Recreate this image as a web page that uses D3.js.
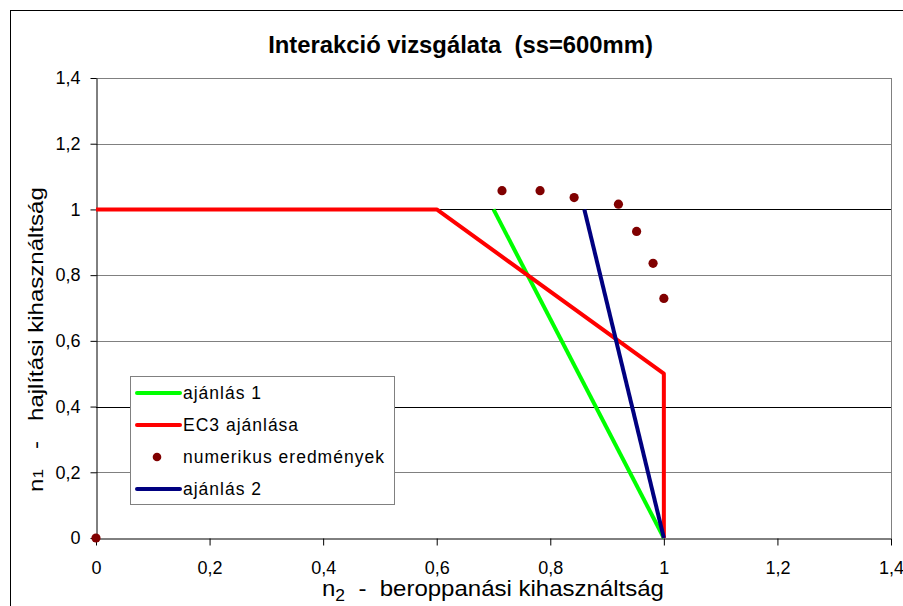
<!DOCTYPE html>
<html>
<head>
<meta charset="utf-8">
<script src="https://cdn.jsdelivr.net/npm/d3@7"></script>
<style>
  html, body { margin: 0; padding: 0; background: #fff; }
  svg { display: block; }
  text { font-family: "Liberation Sans", Arial, sans-serif; fill: #000; white-space: pre; }
</style>
</head>
<body>
<svg id="chart" width="903" height="606"></svg>
<script>
// ---- data ----
const chartTitle = "Interakció vizsgálata  (ss=600mm)";
const seriesNames = ["ajánlás 1", "EC3 ajánlása", "numerikus eredmények", "ajánlás 2"];

// n2 (x) / n1 (y) pairs of the three interaction lines
const ajanlas1N2 = [0.7, 1.0];
const ajanlas1N1 = [1.0, 0.0];
const ec3N2 = [0.0, 0.6, 1.0, 1.0];
const ec3N1 = [1.0, 1.0, 0.5, 0.0];
const ajanlas2N2 = [0.86, 1.0];
const ajanlas2N1 = [1.0, 0.0];

// numerical results
const numerikusN2 = [0.0, 0.715, 0.782, 0.842, 0.920, 0.952, 0.981, 1.0];
const numerikusN1 = [0.0, 1.057, 1.057, 1.036, 1.016, 0.933, 0.836, 0.729];

const tickValues = [0, 0.2, 0.4, 0.6, 0.8, 1.0, 1.2, 1.4];
const tickLabels = ["0", "0,2", "0,4", "0,6", "0,8", "1", "1,2", "1,4"];

// ---- layout ----
const svg = d3.select("#chart");
const x = d3.scaleLinear().domain([0, 1.4]).range([96, 891]);
const y = d3.scaleLinear().domain([0, 1.4]).range([538, 78]);
const labelOf = v => tickLabels[tickValues.findIndex(t => Math.abs(t - v) < 1e-9)];

// outer chart frame
svg.append("rect")
  .attr("x", 10.5).attr("y", 10.5).attr("width", 1000).attr("height", 1000)
  .attr("fill", "#fff").attr("stroke", "#000").attr("stroke-width", 1);

// horizontal gridlines
svg.append("g").selectAll("line")
  .data(tickValues.slice(1))
  .join("line")
  .attr("x1", x(0)).attr("x2", x(1.4))
  .attr("y1", d => Math.round(y(d)) + 0.5).attr("y2", d => Math.round(y(d)) + 0.5)
  .attr("stroke", d => (Math.abs(d - 1.0) < 1e-9 || Math.abs(d - 0.4) < 1e-9) ? "#000" : "#808080")
  .attr("stroke-width", 1);

// right edge of the plot area
svg.append("line")
  .attr("x1", Math.round(x(1.4)) + 0.5).attr("x2", Math.round(x(1.4)) + 0.5)
  .attr("y1", y(1.4)).attr("y2", y(0))
  .attr("stroke", "#808080");

// axes
const xAxis = svg.append("g")
  .attr("transform", `translate(0,${Math.round(y(0)) + 0.5})`)
  .call(d3.axisBottom(x).tickValues(tickValues).tickFormat(labelOf).tickSize(7).tickSizeOuter(0));
xAxis.selectAll("text")
  .attr("y", 35).attr("dy", null)
  .style("font-size", "18px").style("font-family", "Liberation Sans, Arial, sans-serif");

const yAxis = svg.append("g")
  .attr("transform", `translate(${Math.round(x(0)) + 0.5},0)`)
  .call(d3.axisLeft(y).tickValues(tickValues).tickFormat(labelOf).tickSize(6).tickSizeOuter(0));
yAxis.selectAll("text")
  .attr("x", -16)
  .style("font-size", "18px").style("font-family", "Liberation Sans, Arial, sans-serif");
svg.selectAll(".domain, .tick line").attr("stroke", "#000");

// series lines
const line = d3.line().x(d => x(d[0])).y(d => y(d[1]));
const zip = (a, b) => a.map((v, i) => [v, b[i]]);
const lineSeries = [
  { pts: zip(ajanlas1N2, ajanlas1N1), color: "#00ff00" },
  { pts: zip(ec3N2, ec3N1), color: "#ff0000" },
  { pts: zip(ajanlas2N2, ajanlas2N1), color: "#000080" }
];
svg.append("g").selectAll("path")
  .data(lineSeries)
  .join("path")
  .attr("d", d => line(d.pts))
  .attr("fill", "none")
  .attr("stroke", d => d.color)
  .attr("stroke-width", 4)
  .attr("stroke-linejoin", "round");

// numerical result markers
svg.append("g").selectAll("circle")
  .data(zip(numerikusN2, numerikusN1))
  .join("circle")
  .attr("cx", d => x(d[0])).attr("cy", d => y(d[1]))
  .attr("r", 4.6)
  .attr("fill", "#800000");

// legend
const legend = svg.append("g");
legend.append("rect")
  .attr("x", 130.5).attr("y", 376.5).attr("width", 264).attr("height", 128)
  .attr("fill", "#fff").attr("stroke", "#808080");
const legendRows = [
  { name: seriesNames[0], kind: "line", color: "#00ff00" },
  { name: seriesNames[1], kind: "line", color: "#ff0000" },
  { name: seriesNames[2], kind: "dot", color: "#800000" },
  { name: seriesNames[3], kind: "line", color: "#000080" }
];
legendRows.forEach((r, i) => {
  const cy = 393 + i * 32;
  if (r.kind === "line") {
    legend.append("line")
      .attr("x1", 137).attr("x2", 180).attr("y1", cy).attr("y2", cy)
      .attr("stroke", r.color).attr("stroke-width", 4).attr("stroke-linecap", "round");
  } else {
    legend.append("circle").attr("cx", 157).attr("cy", cy).attr("r", 4.3).attr("fill", r.color);
  }
  legend.append("text")
    .attr("x", 183).attr("y", cy + 6)
    .style("font-size", "17.5px").style("letter-spacing", "1px")
    .text(r.name);
});

// title, horizontally fitted to its measured span
const titleG = svg.append("g");
const title = titleG.append("text")
  .attr("text-anchor", "middle")
  .style("font-size", "23px").style("font-weight", "bold")
  .text(chartTitle);
const tw = title.node().getComputedTextLength();
titleG.attr("transform", `translate(460.5,53) scale(${385 / tw},1)`);

// x-axis title with subscript
const xtG = svg.append("g");
const xt = xtG.append("text").style("font-size", "22px");
xt.append("tspan").text("n");
xt.append("tspan").attr("dy", 5).style("font-size", "16px").text("2");
xt.append("tspan").attr("dy", -5).text("  -  beroppanási kihasználtság");
const xw = xt.node().getBBox().width;
xtG.attr("transform", `translate(322,596) scale(${342 / xw},1)`);

// y-axis title
const ytG = svg.append("g");
const yt = ytG.append("text").style("font-size", "21px");
yt.append("tspan").text("n");
yt.append("tspan").style("font-size", "15px").text("1");
yt.append("tspan").text("   -   hajlítási kihasználtság");
const yw = yt.node().getBBox().width;
yt.attr("x", -yw / 2);
ytG.attr("transform", `translate(43,339.5) rotate(-90) scale(${305 / yw},1)`);
</script>
</body>
</html>
